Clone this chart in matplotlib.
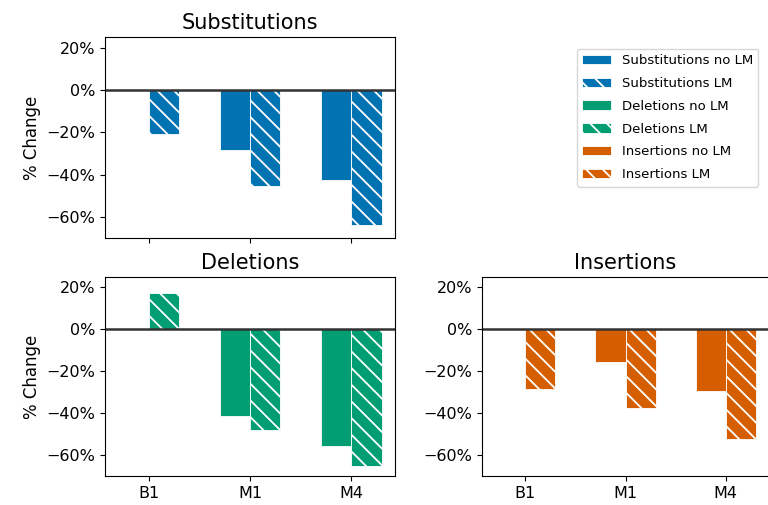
import matplotlib
matplotlib.use("Agg")
import matplotlib.pyplot as plt
import numpy as np
from matplotlib.ticker import PercentFormatter

# data (% change vs baseline)
models = ["B1", "M1", "M4"]
sub_no_lm = [0, -28.3, -42.7]
sub_lm = [-21.0, -45.2, -63.8]
del_no_lm = [0, -41.3, -55.7]
del_lm = [17.4, -48.2, -65.3]
ins_no_lm = [0, -15.7, -29.4]
ins_lm = [-28.3, -37.6, -52.2]

colors = {"Substitutions": "#0173b2", "Deletions": "#029e73", "Insertions": "#d55e00"}

plt.rcParams["hatch.linewidth"] = 1.3
plt.rcParams["hatch.color"] = "white"

fig = plt.figure(figsize=(7.68, 5.05), dpi=100)
ax_sub = fig.add_axes([105 / 768, 1 - 238 / 505, 290 / 768, 201 / 505])
ax_del = fig.add_axes([105 / 768, 1 - 476 / 505, 290 / 768, 199 / 505])
ax_ins = fig.add_axes([482 / 768, 1 - 476 / 505, 287 / 768, 199 / 505])

x = np.arange(len(models))
w = 0.3
handles = []
for ax, name, no_lm, lm in [(ax_sub, "Substitutions", sub_no_lm, sub_lm),
                            (ax_del, "Deletions", del_no_lm, del_lm),
                            (ax_ins, "Insertions", ins_no_lm, ins_lm)]:
    c = colors[name]
    b1 = ax.bar(x - w, no_lm, w, align="edge", color=c, edgecolor="white",
                linewidth=0.6, label=name + " no LM")
    b2 = ax.bar(x, lm, w, align="edge", color=c, edgecolor="white",
                linewidth=0.6, hatch="\\\\", label=name + " LM")
    handles += [b1, b2]
    ax.axhline(0, color="#333333", linewidth=1.8)
    ax.set_ylim(-70, 25)
    ax.set_yticks([20, 0, -20, -40, -60])
    ax.yaxis.set_major_formatter(PercentFormatter(decimals=0))
    ax.set_xticks(x)
    ax.set_xticklabels(models)
    ax.tick_params(labelsize=11.5)
    ax.set_title(name, fontsize=15)

ax_sub.tick_params(labelbottom=False)
ax_sub.set_ylabel("% Change", fontsize=12)
ax_del.set_ylabel("% Change", fontsize=12)

fig.legend(handles=handles, loc="upper right", bbox_to_anchor=(765 / 768, 1 - 42 / 505),
           fontsize=9.5, handlelength=2.2, labelspacing=0.75)

fig.savefig("out.png", dpi=100)
